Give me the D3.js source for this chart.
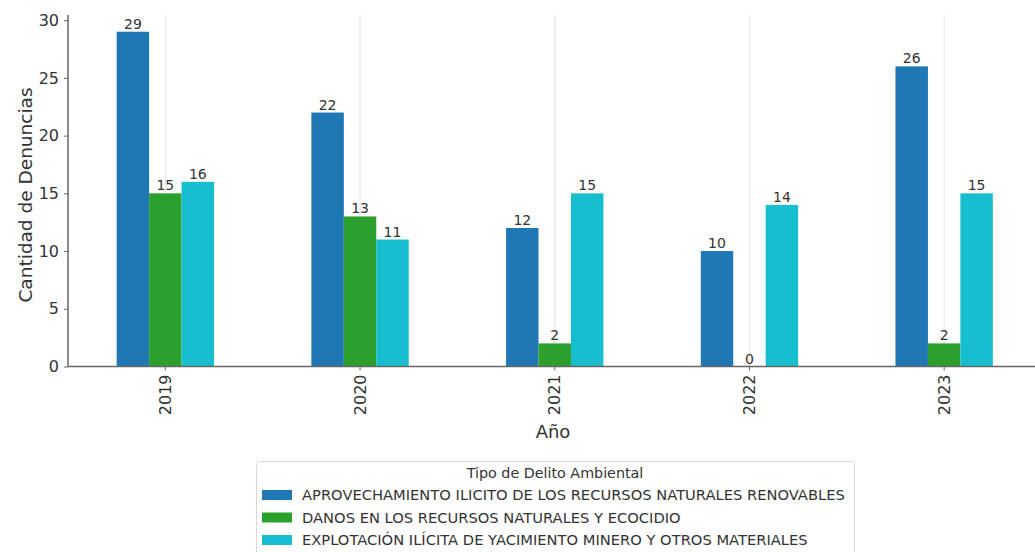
<!DOCTYPE html>
<html><head><meta charset="utf-8">
<script src="https://cdn.jsdelivr.net/npm/d3@7"></script>
<style>body{margin:0;background:#fff;overflow:hidden}svg{display:block;font-family:"DejaVu Sans",sans-serif}</style>
</head><body><svg id="c" width="1035" height="552"></svg>
<script>
const years = ["2019","2020","2021","2022","2023"];
const seriesNames = ["APROVECHAMIENTO ILICITO DE LOS RECURSOS NATURALES RENOVABLES","DANOS EN LOS RECURSOS NATURALES Y ECOCIDIO","EXPLOTACIÓN ILÍCITA DE YACIMIENTO MINERO Y OTROS MATERIALES"];
const aprovechamiento = [29,22,12,10,26];
const danos = [15,13,2,0,2];
const explotacion = [16,11,15,14,15];
const yTicks = [0,5,10,15,20,25,30];
const colors = ["#1f77b4","#2ca02c","#17becf"];
const seriesValues = [aprovechamiento, danos, explotacion];

(function(){
const svg = d3.select("#c");
const pl = 68, pr = 1041.5, pt = 15, pb = 366.5;
const x = d3.scaleBand().domain(years).range([pl,pr]).paddingInner(0.5).paddingOuter(0.25);
const xs = d3.scaleBand().domain([0,1,2]).range([0,x.bandwidth()]);
const y = d3.scaleLinear().domain([0,30.45]).range([pb,pt]);

svg.append("g").selectAll("line").data(years).join("line")
  .attr("x1",d=>x(d)+x.bandwidth()/2).attr("x2",d=>x(d)+x.bandwidth()/2)
  .attr("y1",pt).attr("y2",pb).attr("stroke","#e2e2e2").attr("stroke-width",1);

const groups = svg.append("g").selectAll("g").data(seriesValues).join("g").attr("fill",(d,i)=>colors[i]);
groups.selectAll("rect").data((d,i)=>d.map((v,j)=>({v,j,i}))).join("rect")
  .attr("x",d=>x(years[d.j])+xs(d.i)).attr("width",xs.bandwidth())
  .attr("y",d=>y(d.v)).attr("height",d=>y(0)-y(d.v));
svg.append("g").selectAll("text").data(seriesValues.flatMap((d,i)=>d.map((v,j)=>({v,j,i})))).join("text")
  .attr("x",d=>x(years[d.j])+xs(d.i)+xs.bandwidth()/2).attr("y",d=>y(d.v)-3)
  .attr("text-anchor","middle").attr("font-size",14).attr("fill","#333").text(d=>d.v);

const ya = svg.append("g").attr("transform",`translate(${pl},0)`)
  .call(d3.axisLeft(y).tickValues(yTicks).tickSize(4).tickPadding(5));
ya.select(".domain").attr("stroke","#666").attr("stroke-width",1.5).attr("d",`M0,${pt}V${pb}`);
ya.selectAll(".tick line").attr("stroke","#666");
ya.selectAll(".tick text").attr("font-size",16).attr("fill","#333").attr("font-family","DejaVu Sans");

const xa = svg.append("g").attr("transform",`translate(0,${pb})`)
  .call(d3.axisBottom(x).tickSize(4).tickPadding(0));
xa.select(".domain").attr("stroke","#666").attr("stroke-width",1.5).attr("d",`M${pl},0H1040`);
xa.selectAll(".tick line").attr("stroke","#666");
xa.selectAll(".tick text").attr("font-size",16).attr("fill","#333").attr("font-family","DejaVu Sans")
  .attr("transform","rotate(-90)").attr("text-anchor","end").attr("dy","0.35em").attr("x",-8).attr("y",0);

svg.append("text").attr("transform","translate(32,195) rotate(-90)").attr("text-anchor","middle")
  .attr("font-size",18.5).attr("fill","#333").text("Cantidad de Denuncias");
svg.append("text").attr("x",553).attr("y",438).attr("text-anchor","middle")
  .attr("font-size",18).attr("fill","#333").text("Año");

const lg = svg.append("g");
lg.append("rect").attr("x",256.5).attr("y",461.5).attr("width",598).attr("height",100).attr("rx",3)
  .attr("fill","#fff").attr("stroke","#d8d8d8");
lg.append("text").attr("x",555).attr("y",478).attr("text-anchor","middle").attr("font-size",14.3).attr("fill","#333").text("Tipo de Delito Ambiental");
const items = lg.selectAll("g.it").data(seriesNames).join("g").attr("class","it")
  .attr("transform",(d,i)=>`translate(262,${495+i*22.5})`);
items.append("rect").attr("x",0).attr("y",-5).attr("width",30).attr("height",10).attr("fill",(d,i)=>colors[i]);
items.append("text").attr("x",40).attr("y",0).attr("dy","0.35em").attr("font-size",14.7).attr("fill","#333").text(d=>d);
})();
</script></body></html>
